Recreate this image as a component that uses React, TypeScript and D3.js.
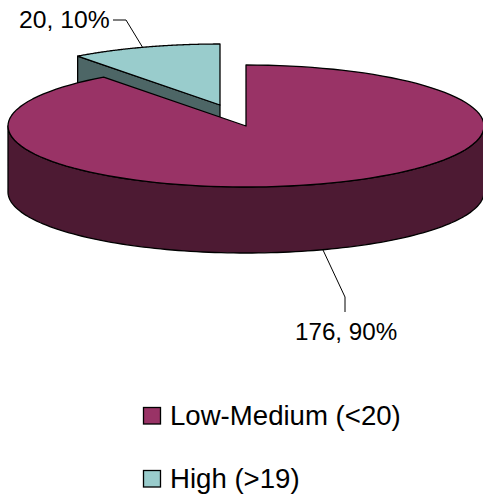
import React from "react";
import * as d3 from "d3";

const categories = ["Low-Medium (<20)", "High (>19)"];
const values = [176, 20];
const dataLabels = ["176, 90%", "20, 10%"];
const topColors = ["#993366", "#99CCCC"];
const sideColors = ["#4D1A33", "#4D6666"];

const W = 483, H = 496;
const cx = 246, cy = 126, rx = 238, ry = 61, depth = 66;
const explode = { dx: -26, dy: -21 };
const legendTops = [407, 470];

const xScale = d3.scaleLinear().domain([-1, 1]).range([cx - rx, cx + rx]);
const yScale = d3.scaleLinear().domain([-1, 1]).range([cy - ry, cy + ry]);
const pie = d3.pie<number>().sort(null).startAngle(0).endAngle(2 * Math.PI);
const line = d3.line<[number, number]>().x(d => d[0]).y(d => d[1]);

const pt = (a: number, dx = 0, dy = 0): [number, number] => [
  xScale(Math.sin(a)) + dx,
  yScale(-Math.cos(a)) + dy,
];
const arcPts = (a0: number, a1: number, dx = 0, dy = 0) =>
  d3.range(0, 121).map(i => pt(a0 + ((a1 - a0) * i) / 120, dx, dy));

export default function App() {
  const [big, small] = pie(values);
  const centre: [number, number] = [xScale(0), yScale(0)];
  const e = explode;

  const bigTop = line([centre, ...arcPts(big.startAngle, big.endAngle)]) + "Z";
  const bigWallPts = arcPts(Math.PI / 2, (3 * Math.PI) / 2);
  const bigWall =
    line([...bigWallPts, ...bigWallPts.slice().reverse().map(p => [p[0], p[1] + depth] as [number, number])]) + "Z";

  const sc: [number, number] = [centre[0] + e.dx, centre[1] + e.dy];
  const smallTop = line([sc, ...arcPts(small.startAngle, small.endAngle, e.dx, e.dy)]) + "Z";
  const sl = pt(small.startAngle, e.dx, e.dy);
  const smallWall = line([sl, sc, [sc[0], sc[1] + depth], [sl[0], sl[1] + depth]]) + "Z";

  const font = "'Liberation Sans', Arial, sans-serif";
  const sw = 1.3;
  return (
    <svg width={W} height={H} style={{ position: "absolute", left: 0, top: 0, display: "block" }}>
      <rect width={W} height={H} fill="#fff" />
      <path d={smallWall} fill={sideColors[1]} stroke="#000" strokeWidth={sw} strokeLinejoin="round" />
      <path d={smallTop} fill={topColors[1]} stroke="#000" strokeWidth={sw} strokeLinejoin="round" />
      <path d={bigWall} fill={sideColors[0]} stroke="#000" strokeWidth={sw} strokeLinejoin="round" />
      <path d={bigTop} fill={topColors[0]} stroke="#000" strokeWidth={sw} strokeLinejoin="round" />

      <path d="M113,20H126L143,48" fill="none" stroke="#000" strokeWidth={1} />
      <path d="M323,250L345,297V312" fill="none" stroke="#000" strokeWidth={1} />
      <text x={19} y={28} fontFamily={font} fontSize={24.7} fill="#000">{dataLabels[1]}</text>
      <text x={295} y={340} fontFamily={font} fontSize={24.2} fill="#000">{dataLabels[0]}</text>

      {categories.map((c, i) => {
        const y = legendTops[i];
        return (
          <g key={c}>
            <rect x={143.5} y={y + 0.5} width={17} height={16.5} fill={topColors[i]} stroke="#000" strokeWidth={1.3} />
            <text x={170} y={y + 18} fontFamily={font} fontSize={27.6} fill="#000">{c}</text>
          </g>
        );
      })}
    </svg>
  );
}
